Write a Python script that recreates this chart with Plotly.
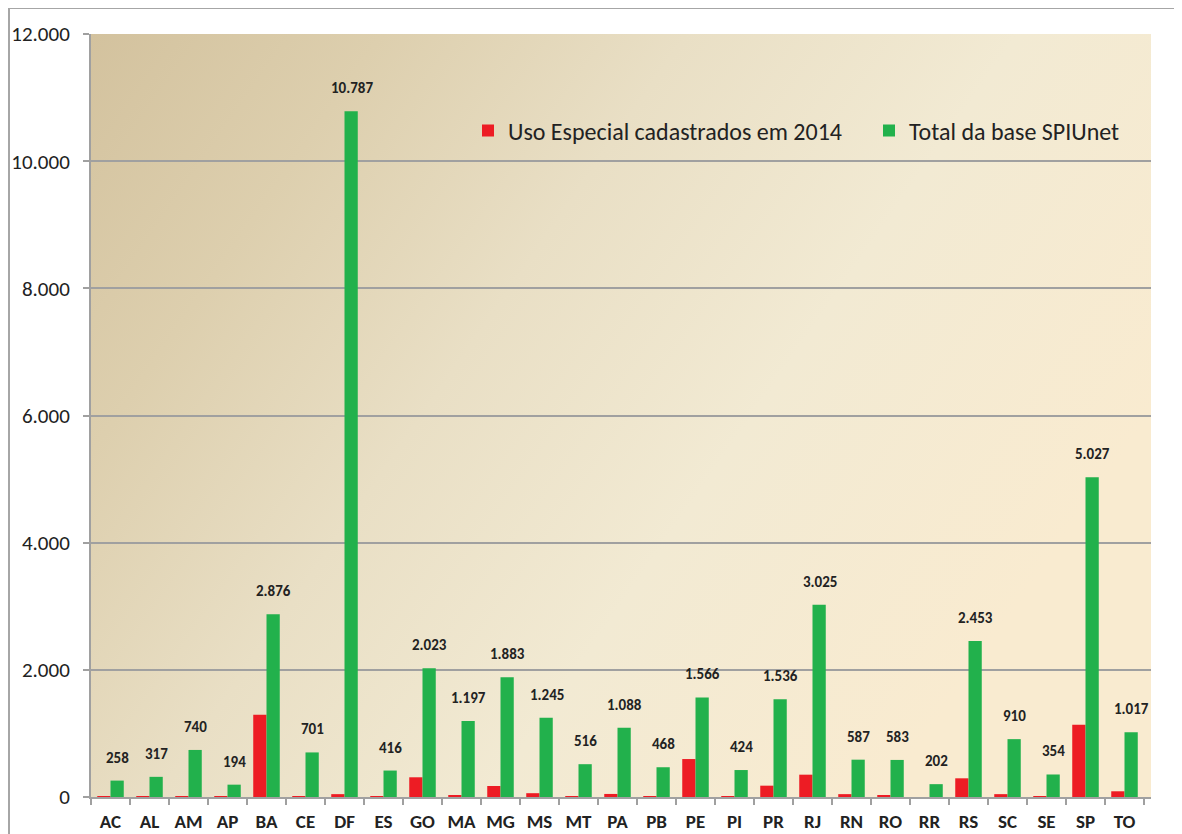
import base64
import plotly.graph_objects as go

estados = ["AC", "AL", "AM", "AP", "BA", "CE", "DF", "ES", "GO", "MA", "MG", "MS", "MT", "PA",
           "PB", "PE", "PI", "PR", "RJ", "RN", "RO", "RR", "RS", "SC", "SE", "SP", "TO"]
uso_especial_2014 = [8, 6, 10, 2, 1294, 8, 45, 8, 310, 30, 173, 60, 8, 48,
                     8, 597, 10, 178, 351, 45, 25, 0, 294, 45, 8, 1137, 90]
total_spiunet = [258, 317, 740, 194, 2876, 701, 10787, 416, 2023, 1197, 1883, 1245, 516, 1088,
                 468, 1566, 424, 1536, 3025, 587, 583, 202, 2453, 910, 354, 5027, 1017]
y_ticks = [0, 2000, 4000, 6000, 8000, 10000, 12000]

# the page body adds an 8px offset, so margins are set smaller on the left/top
W, H = 1182, 834
ML, MR, MT, MB = 83, 39, 26, 45
FONT = "Carlito, Calibri, 'Open Sans', sans-serif"
pw = W - ML - MR
ph = H - MT - MB

# gradient background of the plot area (tan in the top-left corner fading to cream)
svg = """<svg xmlns='http://www.w3.org/2000/svg' width='1000' height='700' preserveAspectRatio='none'>
<defs><linearGradient id='g' x1='0' y1='0' x2='1' y2='0.5'>
<stop offset='0' stop-color='#d3c29e'/>
<stop offset='0.22' stop-color='#ddcfae'/>
<stop offset='0.45' stop-color='#e9dfc5'/>
<stop offset='0.7' stop-color='#f2ead3'/>
<stop offset='1' stop-color='#f9ebd0'/>
</linearGradient></defs>
<rect width='1000' height='700' fill='url(#g)'/></svg>"""
bg_src = "data:image/svg+xml;base64," + base64.b64encode(svg.encode()).decode()

def fmt(v):
    return f"{v:,}".replace(",", ".")

fig = go.Figure()
fig.add_trace(go.Bar(x=estados, y=uso_especial_2014, name="Uso Especial cadastrados em 2014",
                     marker=dict(color="#ed1c24", line=dict(width=0)), legend="legend"))
fig.add_trace(go.Bar(x=estados, y=total_spiunet, name="Total da base SPIUnet",
                     marker=dict(color="#22b14c", line=dict(width=0)), legend="legend2"))

for est, v in zip(estados, total_spiunet):
    fig.add_annotation(x=est, y=v, text=fmt(v), showarrow=False, yanchor="bottom",
                       xshift=7, yshift=12,
                       font=dict(family=FONT, size=15, color="#222222", weight="bold"))

# outer frame (left and top edges)
left = (1 - ML) / pw
right = (W - ML) / pw
top = (H - MB) / ph
bottom = -MB / ph
fig.add_shape(type="line", xref="paper", yref="paper", x0=left, x1=left, y0=bottom, y1=top,
              line=dict(color="#a6a6a6", width=2))
fig.add_shape(type="line", xref="paper", yref="paper", x0=left, x1=right, y0=top, y1=top,
              line=dict(color="#a6a6a6", width=2))

leg_font = dict(family=FONT, size=24, color="#222222")
leg_y = (H - MB - 123) / ph
fig.update_layout(
    width=W, height=H,
    margin=dict(l=ML, r=MR, t=MT, b=MB, autoexpand=False),
    paper_bgcolor="white", plot_bgcolor="#f2ead3",
    separators=",.",
    barmode="group", bargap=0.32, bargroupgap=0,
    font=dict(family=FONT, color="#222222"),
    images=[dict(source=bg_src, xref="paper", yref="paper", x=0, y=1, sizex=1, sizey=1,
                 sizing="stretch", xanchor="left", yanchor="top", layer="below")],
    legend=dict(x=(460 - ML) / pw, y=leg_y, xanchor="left", yanchor="middle",
                bgcolor="rgba(0,0,0,0)", font=leg_font),
    legend2=dict(x=(861 - ML) / pw, y=leg_y, xanchor="left", yanchor="middle",
                 bgcolor="rgba(0,0,0,0)", font=leg_font),
    showlegend=True,
)
fig.update_xaxes(showline=True, linecolor="#a0a0a0", linewidth=2, ticks="outside",
                 tickson="boundaries", ticklen=6, tickcolor="#a0a0a0", tickwidth=2,
                 showgrid=False, automargin=False, ticklabelstandoff=6,
                 tickfont=dict(family=FONT, size=19, color="#222222", weight="bold"))
fig.update_yaxes(range=[0, 12000], tickvals=y_ticks, tickformat=",d", showline=True,
                 linecolor="#a0a0a0", linewidth=2, ticks="outside", ticklen=6,
                 tickcolor="#a0a0a0", tickwidth=2, showgrid=True, gridcolor="#a0a0a0",
                 gridwidth=1.5, zeroline=False, automargin=False, ticklabelstandoff=9,
                 tickfont=dict(family=FONT, size=21, color="#222222"))

fig.write_html("out.html")
